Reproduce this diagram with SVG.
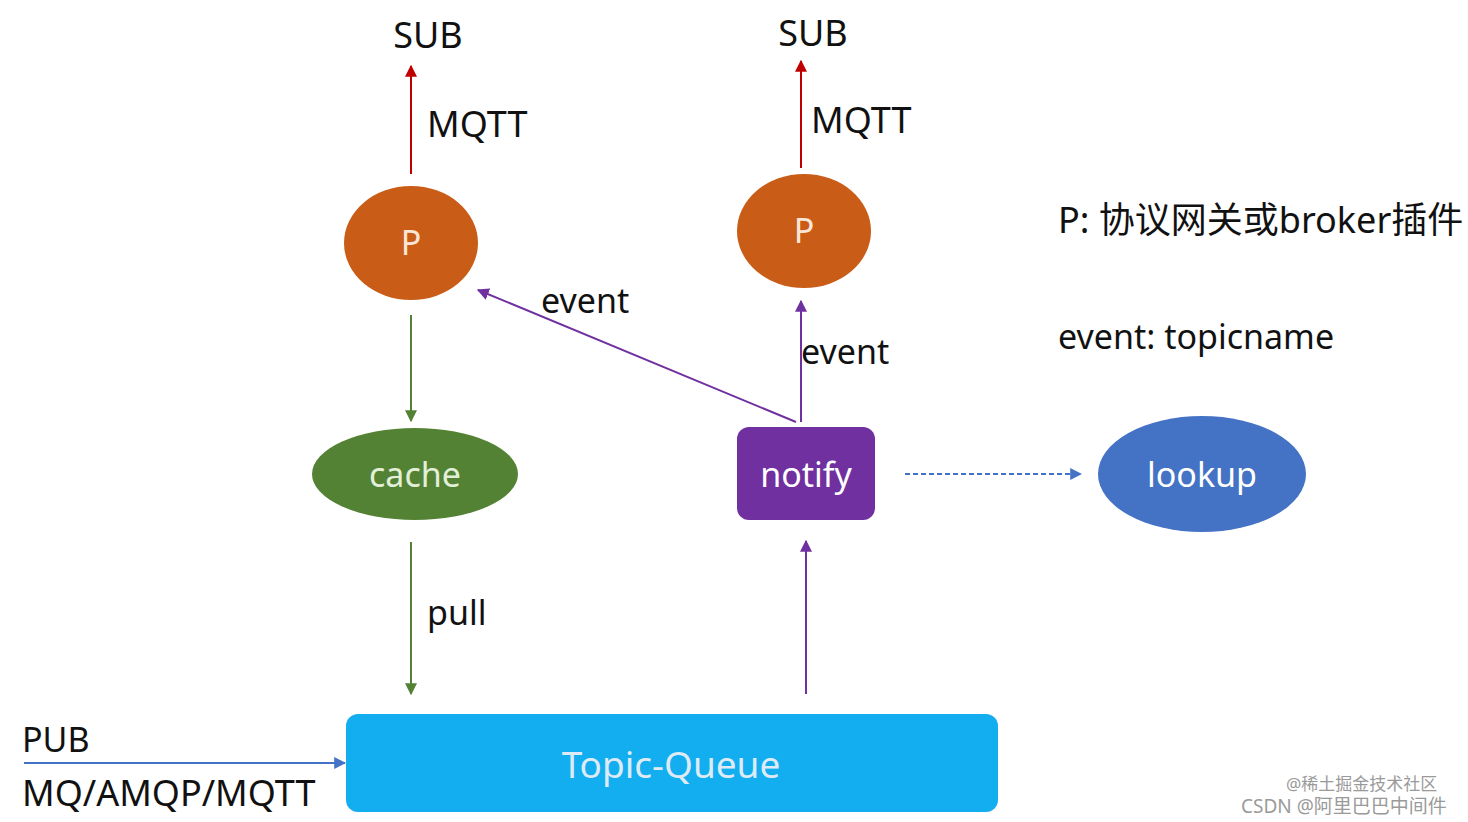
<svg xmlns="http://www.w3.org/2000/svg" width="1468" height="822" viewBox="0 0 1468 822">
<style>
text { font-family: "Noto Sans", "Noto Sans CJK SC", sans-serif; }
.lbl { fill: #111111; font-size: 34px; }
.big { fill: #111111; font-size: 36px; }
.in { font-size: 34px; text-anchor: middle; }
.red { stroke: #c00000; stroke-width: 2; fill: none; }
.grn { stroke: #548235; stroke-width: 2; fill: none; }
.pur { stroke: #7030a0; stroke-width: 2; fill: none; }
.blu { stroke: #4472c4; stroke-width: 2; fill: none; }
.wm { fill: #9a9a9a; }
</style>
<defs>
<marker id="ag" viewBox="0 0 10 10" refX="9" refY="5" markerWidth="12" markerHeight="12" orient="auto" markerUnits="userSpaceOnUse"><path d="M0,0 L10,5 L0,10 z" fill="#548235"/></marker>
<marker id="ap" viewBox="0 0 10 10" refX="9" refY="5" markerWidth="12" markerHeight="12" orient="auto" markerUnits="userSpaceOnUse"><path d="M0,0 L10,5 L0,10 z" fill="#7030a0"/></marker>
<marker id="ab" viewBox="0 0 10 10" refX="9" refY="5" markerWidth="12" markerHeight="12" orient="auto" markerUnits="userSpaceOnUse"><path d="M0,0 L10,5 L0,10 z" fill="#4472c4"/></marker>
<marker id="ar2" viewBox="0 0 10 10" refX="9" refY="5" markerWidth="12" markerHeight="12" orient="auto" markerUnits="userSpaceOnUse"><path d="M0,0 L10,5 L0,10 z" fill="#c00000"/></marker>
</defs>
<rect width="1468" height="822" fill="#ffffff"/>

<g id="connectors">
<line class="red" x1="411" y1="174" x2="411" y2="66" marker-end="url(#ar2)"/>
<line class="red" x1="801" y1="168" x2="801" y2="61" marker-end="url(#ar2)"/>
<line class="grn" x1="411" y1="315" x2="411" y2="421" marker-end="url(#ag)"/>
<line class="grn" x1="411" y1="542" x2="411" y2="694" marker-end="url(#ag)"/>
<line class="pur" x1="796" y1="422" x2="478" y2="290" marker-end="url(#ap)"/>
<line class="pur" x1="801" y1="422" x2="801" y2="301" marker-end="url(#ap)"/>
<line class="pur" x1="806" y1="694" x2="806" y2="541" marker-end="url(#ap)"/>
<line class="blu" x1="905" y1="474" x2="1081" y2="474" stroke-dasharray="5,3" marker-end="url(#ab)"/>
<line class="blu" x1="24" y1="763" x2="345" y2="763" marker-end="url(#ab)"/>
</g>

<g id="labels">
<text class="big" x="428" y="48" text-anchor="middle">SUB</text>
<text class="big" x="813" y="46" text-anchor="middle">SUB</text>
<text class="big" x="427" y="137">MQTT</text>
<text class="big" x="811" y="133">MQTT</text>
<text class="lbl" x="541" y="313">event</text>
<text class="lbl" x="801" y="364">event</text>
<text class="lbl" x="427" y="625">pull</text>
<text class="lbl" x="22" y="752">PUB</text>
<text class="big" x="22" y="806">MQ/AMQP/MQTT</text>
<text class="big" x="1058" y="233">P: 协议网关或broker插件</text>
<text class="lbl" x="1058" y="349">event: topicname</text>
</g>

<g id="node-p-left">
<ellipse cx="411" cy="243" rx="67" ry="57" fill="#c95c17"/>
<text class="in" x="411" y="255" fill="#fbe5d6">P</text>
</g>
<g id="node-p-right">
<ellipse cx="804" cy="231" rx="67" ry="57" fill="#c95c17"/>
<text class="in" x="804" y="243" fill="#fbe5d6">P</text>
</g>
<g id="node-cache">
<ellipse cx="415" cy="474" rx="103" ry="46" fill="#548235"/>
<text class="in" x="415" y="487" fill="#e2f0d9">cache</text>
</g>
<g id="node-notify">
<rect x="737" y="427" width="138" height="93" rx="12" fill="#7030a0"/>
<text class="in" x="806" y="487" fill="#ffffff">notify</text>
</g>
<g id="node-lookup">
<ellipse cx="1202" cy="474" rx="104" ry="58" fill="#4472c4"/>
<text class="in" x="1202" y="487" fill="#ffffff">lookup</text>
</g>
<g id="node-topic-queue">
<rect x="346" y="714" width="652" height="98" rx="12" fill="#13aeef"/>
<text class="in" x="671" y="778" fill="#deebf7" style="font-size:37px">Topic-Queue</text>
</g>

<g id="watermark">
<text class="wm" x="1286" y="790" font-size="17">@稀土掘金技术社区</text>
<text class="wm" x="1241" y="813" font-size="19">CSDN @阿里巴巴中间件</text>
</g>
</svg>
